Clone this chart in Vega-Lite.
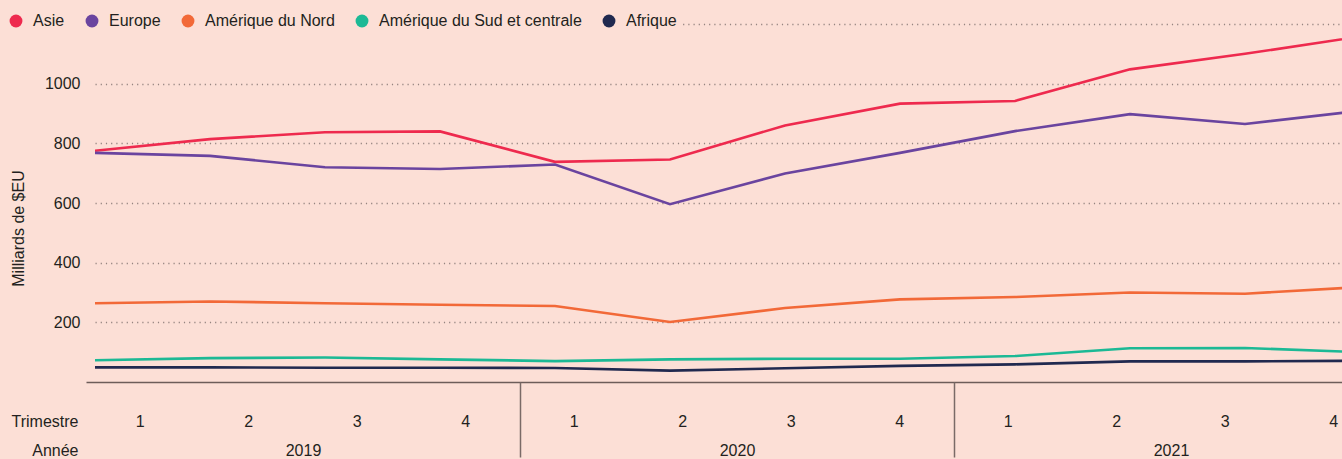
{
  "$schema": "https://vega.github.io/schema/vega-lite/v6.json",
  "width": 1247,
  "height": 358,
  "autosize": "none",
  "padding": {"left": 95, "top": 24, "right": 0, "bottom": 77},
  "background": "#fcdfd6",
  "config": {"view": {"stroke": null}, "font": "Liberation Sans"},
  "datasets": {
    "series": [
      {"region": "Asie", "idx": 0, "value": 775}, {"region": "Asie", "idx": 1, "value": 814}, {"region": "Asie", "idx": 2, "value": 837}, {"region": "Asie", "idx": 3, "value": 840},
      {"region": "Asie", "idx": 4, "value": 738}, {"region": "Asie", "idx": 5, "value": 746}, {"region": "Asie", "idx": 6, "value": 860}, {"region": "Asie", "idx": 7, "value": 933},
      {"region": "Asie", "idx": 8, "value": 942}, {"region": "Asie", "idx": 9, "value": 1048}, {"region": "Asie", "idx": 10, "value": 1100}, {"region": "Asie", "idx": 11, "value": 1158},
      {"region": "Europe", "idx": 0, "value": 768}, {"region": "Europe", "idx": 1, "value": 758}, {"region": "Europe", "idx": 2, "value": 720}, {"region": "Europe", "idx": 3, "value": 714},
      {"region": "Europe", "idx": 4, "value": 729}, {"region": "Europe", "idx": 5, "value": 596}, {"region": "Europe", "idx": 6, "value": 699}, {"region": "Europe", "idx": 7, "value": 768},
      {"region": "Europe", "idx": 8, "value": 841}, {"region": "Europe", "idx": 9, "value": 898}, {"region": "Europe", "idx": 10, "value": 865}, {"region": "Europe", "idx": 11, "value": 909},
      {"region": "Amérique du Nord", "idx": 0, "value": 264}, {"region": "Amérique du Nord", "idx": 1, "value": 270}, {"region": "Amérique du Nord", "idx": 2, "value": 264}, {"region": "Amérique du Nord", "idx": 3, "value": 259},
      {"region": "Amérique du Nord", "idx": 4, "value": 255}, {"region": "Amérique du Nord", "idx": 5, "value": 201}, {"region": "Amérique du Nord", "idx": 6, "value": 248}, {"region": "Amérique du Nord", "idx": 7, "value": 277},
      {"region": "Amérique du Nord", "idx": 8, "value": 285}, {"region": "Amérique du Nord", "idx": 9, "value": 300}, {"region": "Amérique du Nord", "idx": 10, "value": 296}, {"region": "Amérique du Nord", "idx": 11, "value": 318},
      {"region": "Amérique du Sud et centrale", "idx": 0, "value": 73}, {"region": "Amérique du Sud et centrale", "idx": 1, "value": 80}, {"region": "Amérique du Sud et centrale", "idx": 2, "value": 82}, {"region": "Amérique du Sud et centrale", "idx": 3, "value": 76},
      {"region": "Amérique du Sud et centrale", "idx": 4, "value": 70}, {"region": "Amérique du Sud et centrale", "idx": 5, "value": 76}, {"region": "Amérique du Sud et centrale", "idx": 6, "value": 78}, {"region": "Amérique du Sud et centrale", "idx": 7, "value": 78},
      {"region": "Amérique du Sud et centrale", "idx": 8, "value": 87}, {"region": "Amérique du Sud et centrale", "idx": 9, "value": 113}, {"region": "Amérique du Sud et centrale", "idx": 10, "value": 114}, {"region": "Amérique du Sud et centrale", "idx": 11, "value": 100},
      {"region": "Afrique", "idx": 0, "value": 49}, {"region": "Afrique", "idx": 1, "value": 49}, {"region": "Afrique", "idx": 2, "value": 48}, {"region": "Afrique", "idx": 3, "value": 48},
      {"region": "Afrique", "idx": 4, "value": 47}, {"region": "Afrique", "idx": 5, "value": 38}, {"region": "Afrique", "idx": 6, "value": 46}, {"region": "Afrique", "idx": 7, "value": 54},
      {"region": "Afrique", "idx": 8, "value": 59}, {"region": "Afrique", "idx": 9, "value": 69}, {"region": "Afrique", "idx": 10, "value": 69}, {"region": "Afrique", "idx": 11, "value": 71}
    ],
    "quarters": [
      {"key": "2019-1"}, {"key": "2019-2"}, {"key": "2019-3"}, {"key": "2019-4"},
      {"key": "2020-1"}, {"key": "2020-2"}, {"key": "2020-3"}, {"key": "2020-4"},
      {"key": "2021-1"}, {"key": "2021-2"}, {"key": "2021-3"}, {"key": "2021-4"}
    ],
    "years": [{"year": "2019"}, {"year": "2020"}, {"year": "2021"}]
  },
  "layer": [
    {
      "data": {"name": "series"},
      "mark": {"type": "point", "filled": true, "opacity": 0, "clip": true},
      "encoding": {
        "x": {"field": "idx", "type": "quantitative", "scale": {"domain": [0, 10.8435], "nice": false, "zero": false}, "axis": null},
        "y": {"field": "value", "type": "quantitative"},
        "color": {
          "field": "region", "type": "nominal",
          "scale": {
            "domain": ["Asie", "Europe", "Amérique du Nord", "Amérique du Sud et centrale", "Afrique"],
            "range": ["#ee2a4e", "#6a449f", "#f26938", "#1cb995", "#20294f"]
          },
          "legend": {
            "orient": "none", "legendX": -93, "legendY": -17, "direction": "horizontal", "title": null,
            "symbolType": "circle", "symbolSize": 165, "symbolStrokeWidth": 0, "symbolOpacity": 1,
            "labelFontSize": 16, "labelColor": "#231f20", "labelFont": "Liberation Sans", "labelOffset": 9, "labelLimit": 400,
            "columnPadding": 19, "fillColor": "#fcdfd6", "padding": 6
          }
        }
      }
    },
    {
      "data": {"name": "series"},
      "mark": {"type": "line", "strokeWidth": 2.6, "clip": true},
      "encoding": {
        "x": {"field": "idx", "type": "quantitative", "scale": {"domain": [0, 10.8435], "nice": false, "zero": false}, "axis": null},
        "y": {
          "field": "value", "type": "quantitative",
          "scale": {"domain": [0, 1200], "nice": false},
          "axis": {
            "values": [200, 400, 600, 800, 1000, 1200],
            "format": "d",
            "labelExpr": "datum.value >= 1200 ? '' : datum.label",
            "title": "Milliards de $EU",
            "grid": true, "gridDash": [1.2, 4], "gridColor": "#958480", "gridWidth": 1.3,
            "domain": false, "ticks": false,
            "labelPadding": 15, "labelFontSize": 16, "labelColor": "#231f20", "labelFont": "Liberation Sans",
            "titleFont": "Liberation Sans", "titleFontSize": 16, "titleFontWeight": "normal", "titleColor": "#231f20",
            "titleX": -77, "titleY": 204, "titleAngle": -90, "titleAlign": "center", "titleBaseline": "middle"
          }
        },
        "color": {"field": "region", "type": "nominal", "legend": null}
      }
    },
    {
      "data": {"name": "quarters"},
      "mark": {"type": "rule", "opacity": 0},
      "encoding": {
        "x": {
          "field": "key", "type": "ordinal",
          "scale": {"type": "band", "range": [-9, 1293], "paddingInner": 0, "paddingOuter": 0},
          "axis": {
            "orient": "bottom", "title": "Trimestre", "labelExpr": "slice(datum.label, 5)", "labelAngle": 0,
            "ticks": false, "grid": false, "domain": true, "domainColor": "#6d5d5a", "domainWidth": 1.5,
            "labelPadding": 39, "labelBaseline": "middle", "labelFontSize": 16, "labelColor": "#231f20", "labelFont": "Liberation Sans",
            "titleX": -17, "titleY": 39, "titleAlign": "right", "titleBaseline": "middle",
            "titleFontSize": 16, "titleFontWeight": "normal", "titleColor": "#231f20", "titleFont": "Liberation Sans"
          }
        }
      }
    },
    {
      "data": {"name": "years"},
      "mark": {"type": "rule", "opacity": 0},
      "encoding": {
        "x": {
          "field": "year", "type": "ordinal",
          "scale": {"type": "band", "range": [-9, 1293], "paddingInner": 0, "paddingOuter": 0},
          "axis": {
            "orient": "bottom", "title": "Année", "labelAngle": 0, "grid": false, "domain": false,
            "ticks": true, "tickSize": 75, "tickColor": "#7a6a67", "tickWidth": 1.5,
            "tickOffset": 217, "labelOffset": -217,
            "labelPadding": -7, "labelBaseline": "middle", "labelFontSize": 16, "labelColor": "#231f20", "labelFont": "Liberation Sans",
            "titleX": -17, "titleY": 68, "titleAlign": "right", "titleBaseline": "middle",
            "titleFontSize": 16, "titleFontWeight": "normal", "titleColor": "#231f20", "titleFont": "Liberation Sans"
          }
        }
      }
    }
  ],
  "resolve": {"scale": {"x": "independent"}, "axis": {"x": "independent"}, "legend": {"color": "independent"}}
}
